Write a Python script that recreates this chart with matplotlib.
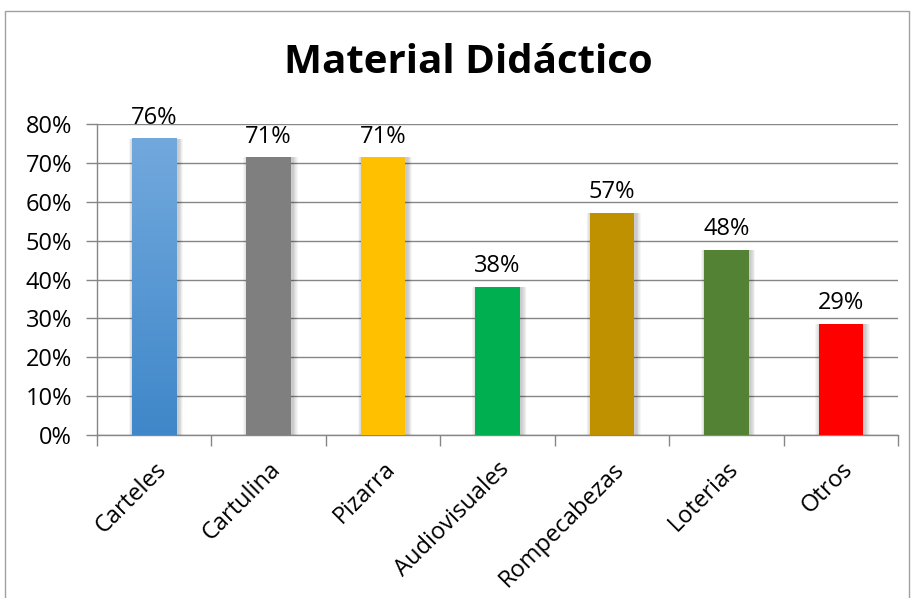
import numpy as np
import matplotlib
matplotlib.use('Agg')
import matplotlib.pyplot as plt
from matplotlib.ticker import PercentFormatter
from matplotlib.patches import Rectangle

plt.rcParams['font.family'] = ['Open Sans', 'DejaVu Sans']

# datos
categorias = ['Carteles', 'Cartulina', 'Pizarra', 'Audiovisuales',
              'Rompecabezas', 'Loterias', 'Otros']
valores = [0.762, 0.714, 0.714, 0.381, 0.571, 0.476, 0.286]
etiquetas = ['76%', '71%', '71%', '38%', '57%', '48%', '29%']
colores = ['#5B9BD5', '#7F7F7F', '#FFC000', '#00B050', '#BF9000', '#548235', '#FF0000']

fig = plt.figure(figsize=(9.12, 5.98), dpi=100, facecolor='white')
ax = fig.add_axes([0.1064, 0.2726, 0.8783, 0.52])

x = np.arange(len(categorias))
ancho = 0.39

# sombra difusa de las barras
for k in range(1, 7):
    ax.bar(x + 0.015, valores, width=ancho + k * 0.014, color='black',
           alpha=0.035, zorder=2, linewidth=0)

barras = ax.bar(x, valores, width=ancho, color=colores, zorder=3, linewidth=0)

# degradado en la primera barra
grad = np.linspace(0, 1, 256).reshape(-1, 1)
cmap = matplotlib.colors.LinearSegmentedColormap.from_list('azul', ['#3F87C9', '#72A9DD'])
b0 = barras[0]
ax.imshow(grad, cmap=cmap, origin='lower', aspect='auto', zorder=3.5,
          extent=[b0.get_x(), b0.get_x() + b0.get_width(), 0, b0.get_height()])

for xi, v, t in zip(x, valores, etiquetas):
    ax.text(xi, v + 0.022, t, ha='center', va='bottom', fontsize=17, color='black', zorder=5)

ax.set_xlim(-0.5, len(categorias) - 0.5)
ax.set_ylim(0, 0.8)
ax.set_yticks(np.arange(0, 0.81, 0.1))
ax.yaxis.set_major_formatter(PercentFormatter(1.0, decimals=0))
ax.grid(axis='y', color='#868686', linewidth=1, zorder=0)
ax.set_axisbelow(True)

ax.set_xticks(x)
ax.set_xticklabels(categorias, rotation=45, ha='right', rotation_mode='anchor', fontsize=17)
ax.set_xticks(np.arange(-0.5, len(categorias)), minor=True)
ax.tick_params(axis='x', which='major', length=0, pad=16)
ax.tick_params(axis='x', which='minor', length=8, color='#868686', width=1)
ax.tick_params(axis='y', length=8, color='#868686', width=1, labelsize=17, pad=10)

for s in ['top', 'right']:
    ax.spines[s].set_visible(False)
for s in ['left', 'bottom']:
    ax.spines[s].set_color('#868686')
    ax.spines[s].set_linewidth(1)

fig.text(0.514, 0.895, 'Material Didáctico', ha='center', va='center',
         fontsize=29, fontweight='bold')

# borde del grafico
borde = Rectangle((5 / 912, -0.05), 904 / 912, 1 - 11 / 598 + 0.05, transform=fig.transFigure,
                  fill=False, edgecolor='#A0A0A0', linewidth=1)
fig.patches.append(borde)

fig.savefig('out.png', dpi=100, facecolor='white')
